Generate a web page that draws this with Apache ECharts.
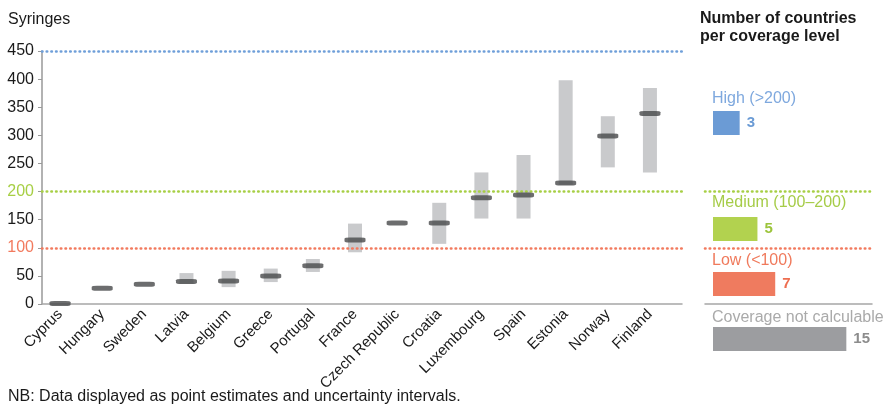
<!DOCTYPE html>
<html>
<head>
<meta charset="utf-8">
<script src="https://cdn.jsdelivr.net/npm/echarts@6/dist/echarts.min.js"></script>
<style>
html,body{margin:0;padding:0;background:#fff;}
#main{width:883px;height:407px;}
</style>
</head>
<body>
<div id="main"></div>
<script>
// ---- data ----
const countries = ['Cyprus','Hungary','Sweden','Latvia','Belgium','Greece','Portugal','France','Czech Republic','Croatia','Luxembourg','Spain','Estonia','Norway','Finland'];
const estimate = [1, 28, 35, 40, 41, 50, 68, 114, 144, 144, 189, 194, 215, 299, 339];
const lowBound = [null, null, null, 36, 30, 39, 57, 92, null, 107, 152, 152, 212, 243, 234];
const highBound = [null, null, null, 55, 59, 63, 80, 143, null, 180, 234, 265, 398, 334, 384];
const yTicks = [0, 50, 100, 150, 200, 250, 300, 350, 400, 450];
const thresholds = {high: 450, medium: 200, low: 100};
const levels = ['High (>200)', 'Medium (100–200)', 'Low (<100)', 'Coverage not calculable'];
const levelCounts = [3, 5, 7, 15];

// ---- styles ----
const FONT = 'Liberation Sans, Arial, Helvetica, sans-serif';
const BLUE = '#6f9fd9', GREEN = '#a7cf45', RED = '#f27a5e', GREY = '#9c9da0';
const levelBarColors = ['#6b9bd5', '#b2d24f', '#ef7b5f', '#9c9da0'];
const levelTextColors = ['#7ea8de', '#a6cc48', '#f07a5c', '#aaaaaa'];
const levelValueColors = ['#6b9bd5', '#9cc43b', '#ee6e50', '#8c8c8c'];
const levelBarTops = [111, 217, 272, 327];
const levelTextTops = [91, 195, 253, 310];

const plotTop = 51, plotBottom = 407 - 304;
function dotted(color){
  return {color: color, width: 2.6, type: [0.5, 4.2], cap: 'round'};
}

const intervalLen = highBound.map((h, i) => (h == null || lowBound[i] == null) ? null : h - lowBound[i]);

const grids = [
  {left: 42, right: 201, top: plotTop, bottom: plotBottom},       // 0 axes + threshold lines
  {left: 39, right: 212, top: plotTop, bottom: plotBottom},       // 1 data
  {left: 705, right: 11, top: plotTop, bottom: plotBottom}        // 2 legend dividers
];
levelBarTops.forEach(t => grids.push({left: 713, width: 160, top: t, height: 24}));

const xAxes = [
  {gridIndex: 0, type: 'value', min: 0, max: 1, axisLine: {show: true, lineStyle: {color: '#a6a6a6', width: 1.5}},
   axisTick: {show: false}, axisLabel: {show: false}, splitLine: {show: false}},
  {gridIndex: 1, type: 'category', data: countries, axisLine: {show: false}, axisTick: {show: false},
   axisLabel: {rotate: 45, fontSize: 15, color: '#1a1a1a', fontFamily: FONT, margin: 8, interval: 0}},
  {gridIndex: 2, type: 'value', min: 0, max: 1, axisLine: {show: true, lineStyle: {color: '#a6a6a6', width: 1.5}},
   axisTick: {show: false}, axisLabel: {show: false}, splitLine: {show: false}}
];
const yAxes = [
  {gridIndex: 0, type: 'value', min: 0, max: 450, interval: 50,
   axisLine: {show: true, lineStyle: {color: '#999', width: 1.5}},
   axisTick: {show: true, length: 4, lineStyle: {color: '#999'}},
   splitLine: {show: false},
   axisLabel: {fontSize: 16, fontFamily: FONT, margin: 8,
     color: v => v == thresholds.medium ? GREEN : (v == thresholds.low ? RED : '#1a1a1a')}},
  {gridIndex: 1, type: 'value', min: 0, max: 450, show: false},
  {gridIndex: 2, type: 'value', min: 0, max: 450, show: false}
];
levels.forEach((lv, i) => {
  xAxes.push({gridIndex: 3 + i, type: 'value', min: 0, max: 18, show: false});
  yAxes.push({gridIndex: 3 + i, type: 'category', data: [lv], show: false});
});

const series = [
  {type: 'line', xAxisIndex: 0, yAxisIndex: 0, data: [], silent: true,
   markLine: {silent: true, symbol: ['none', 'none'], label: {show: false},
     data: [
       {yAxis: thresholds.high, lineStyle: dotted(BLUE)},
       {yAxis: thresholds.medium, lineStyle: dotted(GREEN)},
       {yAxis: thresholds.low, lineStyle: dotted(RED)}
     ]}},
  {type: 'line', xAxisIndex: 2, yAxisIndex: 2, data: [], silent: true,
   markLine: {silent: true, symbol: ['none', 'none'], label: {show: false},
     data: [
       {yAxis: thresholds.medium, lineStyle: dotted(GREEN)},
       {yAxis: thresholds.low, lineStyle: dotted(RED)}
     ]}},
  {type: 'bar', xAxisIndex: 1, yAxisIndex: 1, stack: 'ci', data: lowBound, barWidth: 14,
   itemStyle: {color: 'transparent'}, silent: true},
  {type: 'bar', xAxisIndex: 1, yAxisIndex: 1, stack: 'ci', data: intervalLen, barWidth: 14,
   itemStyle: {color: '#c9cacc'}, silent: true},
  {type: 'scatter', xAxisIndex: 1, yAxisIndex: 1, data: estimate, symbol: 'roundRect',
   symbolSize: [21, 5], itemStyle: {color: '#47484a'}, z: 5, clip: false, silent: true}
];
levels.forEach((lv, i) => {
  series.push({type: 'bar', xAxisIndex: 3 + i, yAxisIndex: 3 + i, data: [levelCounts[i]], barWidth: 24,
    itemStyle: {color: levelBarColors[i]}, silent: true,
    label: {show: true, position: 'right', distance: 7, fontSize: 15, fontWeight: 'bold',
      fontFamily: FONT, color: levelValueColors[i]}});
});

const graphic = [
  {type: 'text', left: 8, top: 12, style: {text: 'Syringes', fontSize: 16, fontFamily: FONT, fill: '#1a1a1a'}},
  {type: 'text', left: 8, top: 389, style: {text: 'NB: Data displayed as point estimates and uncertainty intervals.', fontSize: 16, fontFamily: FONT, fill: '#1a1a1a'}},
  {type: 'text', left: 700, top: 9, style: {text: 'Number of countries\nper coverage level', fontSize: 16, lineHeight: 18.5, fontWeight: 'bold', fontFamily: FONT, fill: '#1a1a1a'}}
];
levels.forEach((lv, i) => {
  graphic.push({type: 'text', left: 712, top: levelTextTops[i], style: {text: lv, fontSize: 16, fontFamily: FONT, fill: levelTextColors[i]}});
});

const chart = echarts.init(document.getElementById('main'), null, {renderer: 'canvas'});
chart.setOption({
  animation: false,
  backgroundColor: '#fff',
  textStyle: {fontFamily: FONT},
  grid: grids, xAxis: xAxes, yAxis: yAxes, series: series, graphic: graphic
});
</script>
</body>
</html>
